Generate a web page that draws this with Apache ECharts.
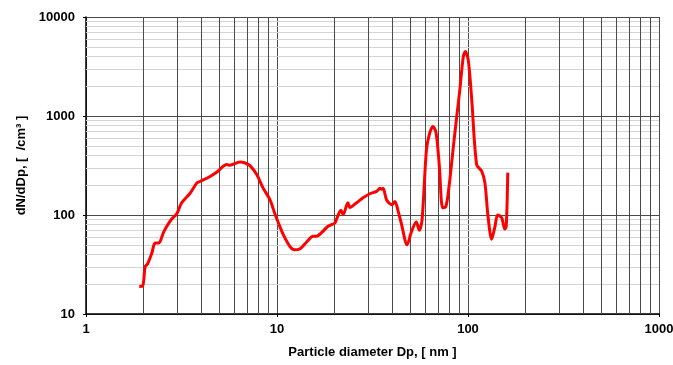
<!DOCTYPE html>
<html>
<head>
<meta charset="utf-8">
<script src="https://cdn.jsdelivr.net/npm/echarts@6/dist/echarts.min.js"></script>
<style>
  html, body { margin: 0; padding: 0; background: #fff; }
  #chart { width: 673px; height: 365px; }
</style>
</head>
<body>
<div id="chart"></div>
<script>
// particle diameter (nm) and dN/dDp (/cm3)
const diam = [1.90, 1.98, 2.04, 2.10, 2.21, 2.30, 2.40, 2.54, 2.64, 2.81, 2.98, 3.17, 3.50, 3.80, 3.95, 4.46, 4.83, 5.46, 5.66, 6.40,
  6.81, 7.22, 7.83, 8.45, 9.18, 9.78, 10.2, 10.8, 11.7, 12.4, 13.2, 14.0, 15.5, 16.1, 17.2, 18.5, 20.1, 20.6, 21.6, 22.2,
  23.5, 24.1, 26.1, 28.2, 30.6, 33.2, 34.6, 35.2, 35.9, 37.5, 39.9, 41.4, 43.1, 44.9, 48.0, 50.6, 53.6, 55.6, 57.5, 60.6,
  63.0, 65.5, 68.1, 70.8, 73.7, 76.6, 79.6, 84.6, 90.6, 94.5, 96.8, 100.3, 104.6, 111, 117.9, 122.6, 127.3, 133, 138.5, 143,
  150, 155.8, 158.6, 161.5]
const dndp = [19, 19.2, 30, 32, 41, 52, 52, 66, 76, 91, 102, 133, 165, 210, 218, 245, 270, 324, 318, 343,
  335, 315, 256, 188, 143, 101, 82, 63, 48, 44.5, 45.6, 51, 61, 61, 67, 77, 83, 93, 112, 101,
  133, 119, 133, 149, 164, 173, 186, 182, 186, 142, 127, 137, 109, 80, 50, 68, 85, 70, 90, 457,
  670, 785, 670, 310, 118, 122, 195, 578, 1838, 3977, 4480, 3687, 1460, 322, 277, 211, 97, 57, 77, 100,
  94, 72, 77, 268]

// minor grid positions (2..9 of every decade)
const xMinor = [2, 3, 4, 5, 6, 7, 8, 9, 20, 30, 40, 50, 60, 70, 80, 90, 200, 300, 400, 500, 600, 700, 800, 900]
const yMinor = [20, 30, 40, 50, 60, 70, 80, 90, 200, 300, 400, 500, 600, 700, 800, 900, 2000, 3000, 4000, 5000, 6000, 7000, 8000, 9000]

const font = 'Liberation Sans, Arial, sans-serif'
const chart = echarts.init(document.getElementById('chart'), null, { renderer: 'canvas' })

let points = []
for (let i = 0; i < diam.length; i++) {
  points.push([diam[i], dndp[i]])
}

let gridLines = []
for (let i = 0; i < yMinor.length; i++) {
  gridLines.push({ yAxis: yMinor[i], lineStyle: { color: '#d4d4d4', width: 1, type: 'solid' } })
}
for (let i = 0; i < xMinor.length; i++) {
  gridLines.push({ xAxis: xMinor[i], lineStyle: { color: '#4a4a4a', width: 1, type: 'solid' } })
}

// plain numbers, no thousands separator
const plainLabel = v => String(Math.round(v))

chart.setOption({
  animation: false,
  backgroundColor: '#fff',
  grid: { left: 86, right: 14, top: 17, bottom: 51, outerBoundsMode: 'none', containLabel: false },
  xAxis: {
    type: 'log',
    logBase: 10,
    min: 1,
    max: 1000,
    name: 'Particle diameter Dp, [ nm ]',
    nameLocation: 'middle',
    nameGap: 32,
    nameTextStyle: { color: '#000', fontFamily: font, fontWeight: 'bold', fontSize: 13 },
    axisLine: { lineStyle: { color: '#000', width: 1.5 } },
    axisTick: { show: true, length: 3, lineStyle: { color: '#000' } },
    axisLabel: { color: '#000', fontFamily: font, fontWeight: 'bold', fontSize: 13, margin: 9, formatter: plainLabel },
    splitLine: { show: true, lineStyle: { color: '#4a4a4a', width: 1 } }
  },
  yAxis: {
    type: 'log',
    logBase: 10,
    min: 10,
    max: 10000,
    name: 'dN/dDp, [  /cm³ ]',
    nameLocation: 'middle',
    nameGap: 57,
    nameTextStyle: { color: '#000', fontFamily: font, fontWeight: 'bold', fontSize: 13 },
    axisLine: { show: true, lineStyle: { color: '#000', width: 1.5 } },
    axisTick: { show: true, length: 3, lineStyle: { color: '#000' } },
    axisLabel: { color: '#000', fontFamily: font, fontWeight: 'bold', fontSize: 13, margin: 11, formatter: plainLabel },
    splitLine: { show: true, lineStyle: { color: '#4a4a4a', width: 1 } }
  },
  series: [{
    type: 'line',
    data: points,
    showSymbol: false,
    smooth: 0.3,
    lineStyle: { color: '#ff0000', width: 3 },
    z: 5,
    markLine: {
      silent: true,
      symbol: ['none', 'none'],
      label: { show: false },
      z: 1,
      data: gridLines
    }
  }]
})
</script>
</body>
</html>
